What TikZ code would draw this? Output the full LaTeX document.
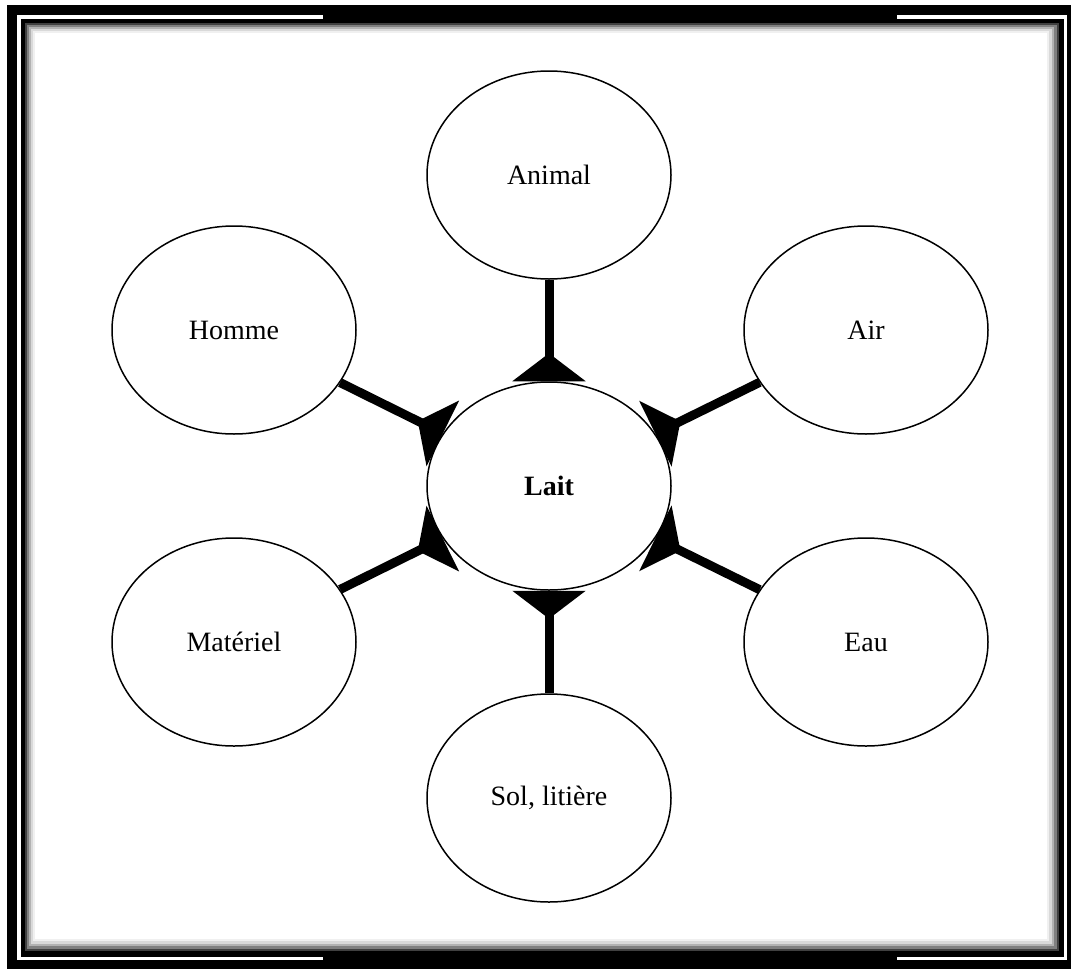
\documentclass[tikz,border=0pt]{standalone}
\usepackage{fontspec}
\setmainfont{Liberation Serif}
\usetikzlibrary{shapes.geometric,arrows.meta}
\tikzset{
  bubble/.style={ellipse, draw=black, line width=0.75pt, fill=white,
    minimum width=122pt, minimum height=104pt, inner sep=0pt,
    font=\fontsize{14}{16}\selectfont},
  conn/.style={line width=4.5pt, black,
    -{Triangle[reversed,length=14pt,width=36pt]}}
}
\begin{document}
\begin{tikzpicture}[x=0.5pt,y=-0.5pt]
\useasboundingbox (0,0) rectangle (1071,969);
\fill[white] (0,0) rectangle (1071,969);
% frame
\fill[black] (7,5) rectangle (1071,969);
\fill[white] (17,15) rectangle (1067,960);
\fill[black] (20.5,18.5) rectangle (1064,956.5);
\fill[black!75] (25,22.5) rectangle (1059,951);
\fill[black!50] (27,24.5) rectangle (1056.5,948.5);
\fill[black!30] (29,26.5) rectangle (1054,946);
\fill[black!15] (31,28.5) rectangle (1051.5,943.5);
\fill[black!6] (33,30.5) rectangle (1049,941);
\fill[white] (35,32.5) rectangle (1047,939);
\fill[black] (323,5) rectangle (897,22);
\fill[black] (323,953) rectangle (897,969);
% nodes
\node[bubble] (animal) at (549,175) {Animal};
\node[bubble] (homme) at (234,330) {Homme};
\node[bubble] (air) at (866,330) {Air};
\node[bubble] (lait) at (549,486) {\textbf{Lait}};
\node[bubble] (materiel) at (234,642) {Matériel};
\node[bubble] (eau) at (866,642) {Eau};
\node[bubble] (sol) at (549,798) {Sol, litière};
% connectors
\draw[conn] (animal) -- (lait);
\draw[conn] (homme) -- (lait);
\draw[conn] (air) -- (lait);
\draw[conn] (materiel) -- (lait);
\draw[conn] (eau) -- (lait);
\draw[conn] (sol) -- (lait);
\end{tikzpicture}
\end{document}
